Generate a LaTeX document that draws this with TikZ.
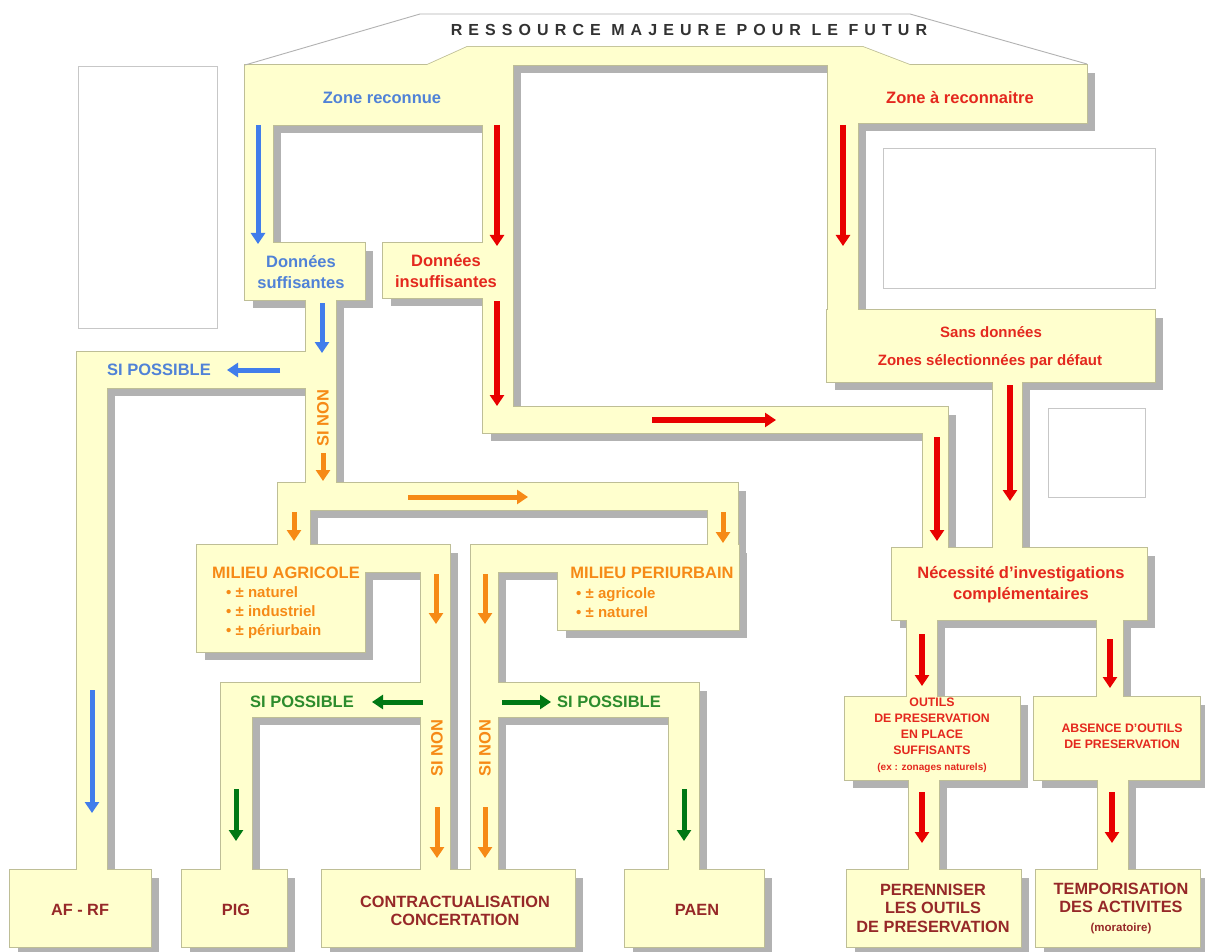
\documentclass[tikz,border=0pt]{standalone}
\usepackage{fontspec}
\setmainfont{Liberation Sans}
\newfontfamily\hdrfont[LetterSpace=38]{Liberation Sans}
\usetikzlibrary{arrows.meta}
\definecolor{yel}{RGB}{255,255,206}
\definecolor{edgec}{RGB}{190,190,150}
\definecolor{shadc}{RGB}{178,178,178}
\definecolor{bluet}{RGB}{80,130,215}
\definecolor{bluea}{RGB}{65,125,235}
\definecolor{redt}{RGB}{228,40,30}
\definecolor{reda}{RGB}{232,0,0}
\definecolor{orng}{RGB}{246,138,22}
\definecolor{grna}{RGB}{0,120,20}
\definecolor{grnt}{RGB}{45,140,45}
\definecolor{brn}{RGB}{150,40,40}
\definecolor{hdrc}{RGB}{50,50,50}
\def\pieces{245/65/513/125, 245/120/273/248, 245/243/365/300, 483/120/513/248, 383/243/513/298, 483/295/513/433, 483/407/948/433, 923/407/948/552, 828/65/1087/123, 828/120/858/313, 827/310/1155/382, 993/378/1022/552, 892/548/1147/620, 907/616/937/700, 1097/616/1123/700, 845/697/1020/780, 1034/697/1200/780, 909/776/939/873, 1098/776/1128/873, 847/870/1021/947, 1036/870/1200/947, 306/297/336/486, 77/352/336/388, 77/352/107/873, 10/870/151/947, 278/483/738/510, 278/483/310/548, 708/483/738/548, 197/545/450/572, 197/545/365/652, 421/545/450/873, 471/545/739/572, 558/545/739/630, 471/545/498/873, 221/683/450/717, 221/683/252/873, 182/870/287/947, 471/683/699/717, 669/683/699/873, 625/870/764/947, 322/870/575/947}
\tikzset{
  lbl/.style={font=\bfseries\fontsize{16.5}{21}\selectfont, align=center, inner sep=0pt},
  sml/.style={font=\bfseries\fontsize{12.3}{16}\selectfont, align=center, inner sep=0pt},
  bot/.style={font=\bfseries\fontsize{16.3}{18.5}\selectfont, align=center, inner sep=0pt, text=brn},
  bul/.style={font=\bfseries\fontsize{15}{19}\selectfont, align=left, inner sep=0pt, anchor=west, text=orng},
  arr/.style={line width=5pt, -{Triangle[width=14pt,length=11pt]}},
  arB/.style={arr, bluea},
  arR/.style={arr, reda, line width=5.5pt},
  arO/.style={arr, orng},
  arG/.style={arr, grna},
  emptybox/.style={draw=black!22, line width=0.8pt, fill=white},
}
\begin{document}
\begin{tikzpicture}[x=1pt,y=-1pt]
\useasboundingbox[fill=white] (0,0) rectangle (1205,952);
% shadows
\fill[shadc] (427+8,65+8) -- (467+8,47+8) -- (863+8,47+8) -- (910+8,65+8) -- cycle;
\foreach \a/\b/\c/\d in \pieces {\fill[shadc] (\a+8,\b+8) rectangle (\c+8,\d+8);}
% outlines
\draw[edgec, line width=1.6pt] (427,65) -- (467,47) -- (863,47) -- (910,65) -- cycle;
\foreach \a/\b/\c/\d in \pieces {\draw[edgec, line width=1.6pt] (\a,\b) rectangle (\c,\d);}
% fills
\fill[yel] (427,65) -- (467,47) -- (863,47) -- (910,65) -- cycle;
\foreach \a/\b/\c/\d in \pieces {\fill[yel] (\a,\b) rectangle (\c,\d);}
% header outline
\draw[black!30, line width=0.9pt] (245,65) -- (420,14) -- (910,14) -- (1087,64);
\node[text=hdrc, inner sep=0pt] (hdr) at (689,30) {\hdrfont\bfseries\fontsize{16}{16}\selectfont RESSOURCE MAJEURE POUR LE FUTUR};
% empty boxes
\node[emptybox, minimum width=139pt, minimum height=262pt] (img1) at (147.5,197) {};
\node[emptybox, minimum width=272pt, minimum height=140pt] (img2) at (1019,218) {};
\node[emptybox, minimum width=97pt, minimum height=89pt] (img3) at (1096.5,452.5) {};
% texts
\node[lbl, text=bluet] (zr) at (382,98) {Zone reconnue};
\node[lbl, text=redt] (zar) at (960,98) {Zone à reconnaitre};
\node[lbl, text=bluet] (dsuf) at (301,272) {Données\\suffisantes};
\node[lbl, text=redt] (dins) at (446,271) {Données\\insuffisantes};
\node[lbl, text=bluet] (sip1) at (159,370) {SI POSSIBLE};
\node[lbl, text=orng, rotate=90] (sin1) at (323,418) {SI NON};
\node[lbl, text=redt, font=\bfseries\fontsize{15}{20}\selectfont] (sd1) at (991,332) {Sans données};
\node[lbl, text=redt, font=\bfseries\fontsize{15}{20}\selectfont] (sd2) at (990,362) {Zones sélectionnées par défaut};
\node[lbl, text=redt] (nec) at (1021,585) {Nécessité d'investigations\\complémentaires};
\node[lbl, text=orng] (magr) at (286,573) {MILIEU AGRICOLE};
\node[bul] (magrb) at (226,613) {• ± naturel\\• ± industriel\\• ± périurbain};
\node[lbl, text=orng] (mper) at (652,573) {MILIEU PERIURBAIN};
\node[bul] (mperb) at (576,603) {• ± agricole\\• ± naturel};
\node[lbl, text=grnt] (sip2) at (302,702) {SI POSSIBLE};
\node[lbl, text=grnt] (sip3) at (609,702) {SI POSSIBLE};
\node[lbl, text=orng, rotate=90] (sin2) at (437,748) {SI NON};
\node[lbl, text=orng, rotate=90] (sin3) at (485,748) {SI NON};
\node[sml, text=redt] (outils) at (932,735) {OUTILS\\DE PRESERVATION\\EN PLACE\\SUFFISANTS\\{\fontsize{10}{12}\selectfont (ex : zonages naturels)}};
\node[sml, text=redt] (absence) at (1122,736) {ABSENCE D'OUTILS\\DE PRESERVATION};
\node[bot] (afrf) at (80,910) {AF - RF};
\node[bot] (pig) at (236,910) {PIG};
\node[bot] (contr) at (455,911) {CONTRACTUALISATION\\CONCERTATION};
\node[bot] (paen) at (697,910) {PAEN};
\node[bot] (peren) at (933,908) {PERENNISER\\LES OUTILS\\DE PRESERVATION};
\node[bot] (tempo) at (1121,908) {TEMPORISATION\\DES ACTIVITES\\{\fontsize{11.5}{14}\selectfont (moratoire)}};
% arrows blue
\draw[arB] (258,125) -- (258,244);
\draw[arB] (322,303) -- (322,353);
\draw[arB] (280,370) -- (227,370);
\draw[arB] (92,690) -- (92,813);
% arrows red
\draw[arR] (497,125) -- (497,246);
\draw[arR] (497,301) -- (497,406);
\draw[arR] (652,420) -- (776,420);
\draw[arR] (843,125) -- (843,246);
\draw[arR] (937,437) -- (937,541);
\draw[arR] (1010,385) -- (1010,501);
\draw[arR] (922,634) -- (922,686);
\draw[arR] (1110,639) -- (1110,688);
\draw[arR] (922,792) -- (922,843);
\draw[arR] (1112,792) -- (1112,843);
% arrows orange
\draw[arO] (323,453) -- (323,481);
\draw[arO] (408,497) -- (528,497);
\draw[arO] (294,512) -- (294,541);
\draw[arO] (723,512) -- (723,543);
\draw[arO] (436,574) -- (436,624);
\draw[arO] (485,574) -- (485,624);
\draw[arO] (437,807) -- (437,858);
\draw[arO] (485,807) -- (485,858);
% arrows green
\draw[arG] (423,702) -- (372,702);
\draw[arG] (502,702) -- (551,702);
\draw[arG] (236,789) -- (236,841);
\draw[arG] (684,789) -- (684,841);
\end{tikzpicture}
\end{document}
